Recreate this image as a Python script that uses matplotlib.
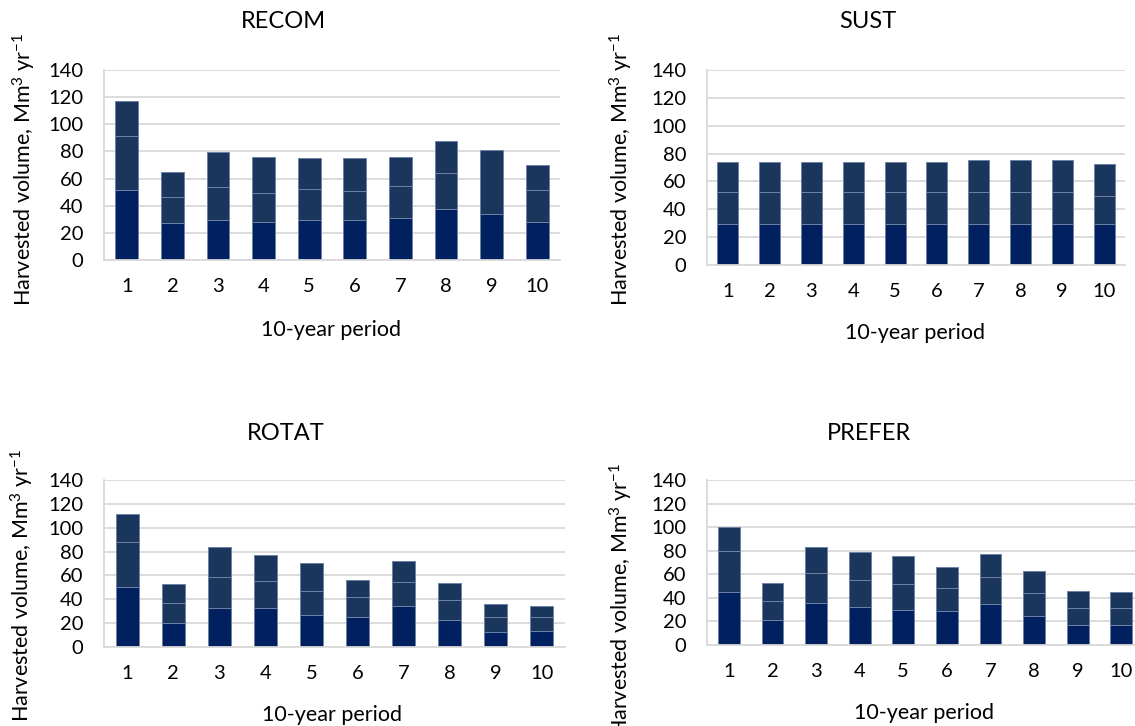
import numpy as np
from matplotlib import pyplot as plt

######################
# Harvested volume per 10-year period, three stacked components (Mm3/yr)

periods = np.arange(1, 11)

recom_low = [51.7, 27.0, 29.2, 27.7, 29.2, 29.2, 30.9, 37.3, 33.8, 27.7]
recom_mid = [39.5, 19.6, 24.5, 21.6, 23.0, 21.5, 23.5, 26.7, 47.3, 23.8]
recom_top = [26.2, 18.1, 26.0, 26.4, 22.8, 24.3, 21.6, 23.7, 0.0, 18.8]

sust_low = [29.2, 29.2, 29.2, 29.2, 29.2, 29.2, 29.2, 29.2, 29.2, 29.2]
sust_mid = [23.0, 23.0, 23.0, 23.0, 23.0, 23.0, 23.0, 23.0, 23.0, 20.1]
sust_top = [21.7, 21.7, 21.7, 21.7, 21.7, 21.7, 22.9, 22.9, 22.9, 23.2]

rotat_low = [50.2, 19.8, 32.6, 32.3, 26.5, 25.1, 34.0, 22.3, 12.3, 13.1]
rotat_mid = [37.9, 17.0, 26.0, 22.9, 20.3, 16.7, 20.4, 17.0, 13.1, 12.3]
rotat_top = [23.4, 15.9, 25.1, 22.0, 23.8, 14.5, 17.8, 14.0, 10.9, 8.6]

prefer_low = [45.2, 20.9, 35.3, 32.2, 29.4, 28.5, 34.4, 24.3, 16.9, 16.7]
prefer_mid = [34.7, 16.4, 25.7, 23.1, 22.3, 19.8, 22.9, 19.7, 14.4, 14.6]
prefer_top = [20.6, 15.5, 22.3, 24.0, 23.9, 18.0, 20.3, 18.4, 14.7, 13.9]

titles = ['RECOM', 'SUST', 'ROTAT', 'PREFER']
ylab = 'Harvested volume, Mm$^3$ yr$^{-1}$'
xlab = '10-year period'
######################

plt.rcParams['font.family'] = ['Lato', 'DejaVu Sans']
plt.rcParams['mathtext.fontset'] = 'custom'
plt.rcParams['mathtext.rm'] = 'Lato'
plt.rcParams['mathtext.it'] = 'Lato'

W, H = 1135, 726
fig = plt.figure(figsize=(W / 100, H / 100), dpi=100)


def px_axes(left, top, right, bottom):
    # rectangle given in pixel coords measured from the top-left corner
    return fig.add_axes([left / W, (H - bottom) / H, (right - left) / W, (bottom - top) / H])


grid_col = '#D9D9D9'
c_low = '#00205F'
c_up = '#1B365D'
edge = '#6E82A6'


def stacked(ax, low, mid, top):
    low = np.array(low)
    mid = np.array(mid)
    top = np.array(top)
    ax.bar(periods, low, width=0.5, color=c_low, edgecolor=edge, linewidth=0.7, zorder=2)
    ax.bar(periods, mid, width=0.5, bottom=low, color=c_up, edgecolor=edge, linewidth=0.7, zorder=2)
    ax.bar(periods, top, width=0.5, bottom=low + mid, color=c_up, edgecolor=edge, linewidth=0.7, zorder=2)
    ax.set_xlim(0.5, 10.5)
    ax.set_ylim(0, 140)
    ax.set_yticks(np.arange(0, 141, 20))
    ax.set_xticks(periods)
    ax.yaxis.grid(True, color=grid_col, linewidth=1.3, zorder=0)
    ax.set_axisbelow(True)
    for s in ['top', 'right']:
        ax.spines[s].set_visible(False)
    for s in ['left', 'bottom']:
        ax.spines[s].set_color(grid_col)
        ax.spines[s].set_linewidth(1.3)
    ax.tick_params(axis='both', length=0, labelsize=14.5, colors='black')
    ax.tick_params(axis='y', pad=15)
    ax.tick_params(axis='x', pad=13)


ax1 = px_axes(104, 70, 560, 260)
ax2 = px_axes(707, 70, 1125, 265)
ax3 = px_axes(104, 480, 565, 647)
ax4 = px_axes(707, 480, 1143, 645)

stacked(ax1, recom_low, recom_mid, recom_top)
stacked(ax2, sust_low, sust_mid, sust_top)
stacked(ax3, rotat_low, rotat_mid, rotat_top)
stacked(ax4, prefer_low, prefer_mid, prefer_top)


# titles, axis labels
def ftext(x, y, s, size=15.5, **kw):
    fig.text(x / W, (H - y) / H, s, ha='center', va='center', fontsize=size, **kw)


ftext(283, 22, titles[0], size=17)
ftext(868, 22, titles[1], size=17)
ftext(286, 433, titles[2], size=17)
ftext(869, 433, titles[3], size=17)

ftext(331, 330, xlab)
ftext(915, 333, xlab)
ftext(332, 715, xlab)
ftext(924, 713, xlab)

ftext(24, 169, ylab, rotation=90)
ftext(621, 169, ylab, rotation=90)
ftext(22, 585, ylab, rotation=90)
ftext(621, 599, ylab, rotation=90)

plt.savefig('out.png', dpi=100)
